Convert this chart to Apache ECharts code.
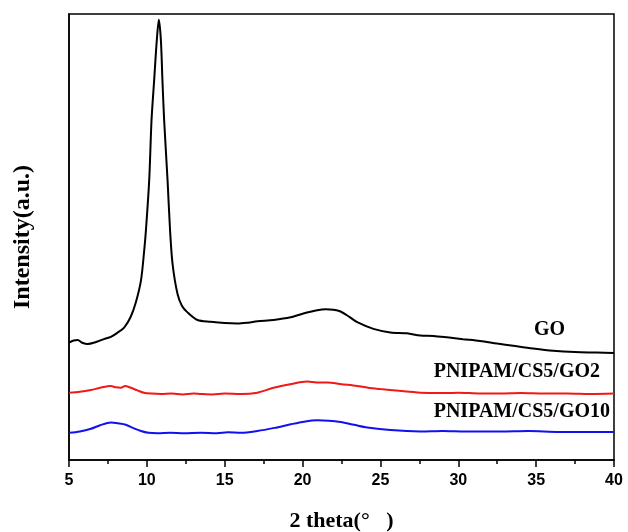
<!DOCTYPE html>
<html>
<head>
<meta charset="utf-8">
<title>XRD</title>
<script src="https://cdn.jsdelivr.net/npm/echarts@6/dist/echarts.min.js"></script>
<style>
  html, body { margin: 0; padding: 0; background: #fff; }
  #chart { width: 628px; height: 532px; }
</style>
</head>
<body>
<div id="chart"></div>
<script>
// XRD 图谱 GO / PNIPAM/CS5/GO2 / PNIPAM/CS5/GO10
var seriesNames = ['GO', 'PNIPAM/CS5/GO2', 'PNIPAM/CS5/GO10']
var xTicks = [5, 10, 15, 20, 25, 30, 35, 40]

// [2theta, intensity(a.u.)]
var goData = [
  [5.0, 26.3], [5.3, 26.8], [5.56, 26.9], [5.85, 26.3], [6.2, 26.0], [6.7, 26.4],
  [7.24, 27.1], [7.69, 27.6], [8.1, 28.5], [8.54, 29.7], [8.95, 32.0], [9.29, 35.3],
  [9.62, 40.2], [9.83, 47.0], [9.94, 51.5], [10.15, 62.7], [10.3, 76.2], [10.47, 85.2],
  [10.64, 94.2], [10.77, 98.7], [10.9, 94.2], [11.0, 85.2], [11.11, 76.2], [11.33, 62.7],
  [11.49, 51.5], [11.65, 44.0], [11.97, 37.2], [12.25, 34.6], [12.61, 33.1], [13.25, 31.4],
  [14.1, 31.0], [15.0, 30.7], [15.81, 30.6], [16.5, 30.8], [17.1, 31.1], [18.14, 31.4],
  [19.23, 32.0], [20.1, 32.9], [20.94, 33.6], [21.5, 33.8], [21.99, 33.7], [22.44, 33.3],
  [23.0, 32.1], [23.51, 30.9], [24.55, 29.4], [25.64, 28.6], [26.71, 28.4], [27.56, 27.9],
  [28.4, 27.8], [29.28, 27.5], [30.3, 27.1], [31.4, 26.7], [32.5, 26.1], [33.53, 25.6],
  [34.8, 25.0], [36.09, 24.5], [37.5, 24.2], [38.89, 24.1], [40.0, 24.0]
]
var go2Data = [
  [5.0, 15.1], [5.7, 15.3], [6.41, 15.7], [7.0, 16.2], [7.69, 16.6], [8.0, 16.3],
  [8.33, 16.2], [8.6, 16.6], [8.97, 16.2], [9.4, 15.6], [9.81, 15.1], [10.3, 14.9],
  [10.9, 14.8], [11.6, 14.9], [12.3, 14.7], [13.0, 14.9], [13.46, 14.8], [14.2, 14.7],
  [15.0, 14.9], [16.03, 14.8], [17.1, 15.1], [18.14, 16.2], [19.2, 17.0], [20.3, 17.6],
  [20.9, 17.4], [21.58, 17.4], [22.5, 17.0], [23.5, 16.6], [24.2, 16.2], [25.0, 15.9],
  [26.2, 15.5], [27.56, 15.1], [28.8, 15.0], [30.0, 15.1], [31.4, 14.9], [32.7, 14.9],
  [34.0, 15.0], [35.5, 14.9], [37.0, 14.9], [38.5, 14.8], [40.0, 14.9]
]
var go10Data = [
  [5.0, 6.1], [5.7, 6.4], [6.41, 7.0], [7.0, 7.8], [7.69, 8.4], [8.2, 8.2],
  [8.65, 7.9], [9.1, 7.2], [9.62, 6.5], [10.1, 6.1], [10.69, 6.0], [11.5, 6.1],
  [12.4, 6.0], [13.46, 6.1], [14.5, 6.0], [15.2, 6.2], [16.03, 6.1], [17.1, 6.5],
  [18.2, 7.2], [19.23, 8.0], [20.1, 8.6], [20.94, 8.9], [21.7, 8.8], [22.44, 8.5],
  [23.3, 7.9], [24.15, 7.3], [25.64, 6.7], [27.56, 6.4], [29.0, 6.5], [30.5, 6.4],
  [32.7, 6.4], [34.5, 6.5], [36.5, 6.3], [38.5, 6.3], [40.0, 6.3]
]

var chart = echarts.init(document.getElementById('chart'))

var serifFont = '"Liberation Serif", "Times New Roman", serif'
var labelFont = {
  fontFamily: serifFont,
  fontWeight: 'bold',
  fontSize: 20,
  fill: '#000'
}

chart.setOption({
  backgroundColor: '#fff',
  animation: false,
  grid: {
    left: 69,
    right: 14,
    top: 14,
    bottom: 72,
    containLabel: false,
    outerBoundsMode: 'none',
    show: true,
    borderColor: '#000',
    borderWidth: 1.5
  },
  xAxis: {
    type: 'value',
    min: xTicks[0],
    max: xTicks[xTicks.length - 1],
    interval: 5,
    name: '2 theta(°   )',
    nameLocation: 'middle',
    nameGap: 50,
    nameTextStyle: {
      fontFamily: serifFont,
      fontWeight: 'bold',
      fontSize: 22,
      color: '#000'
    },
    axisLine: { show: true, onZero: false, lineStyle: { color: '#000', width: 1.5 } },
    axisTick: { show: true, inside: false, length: 7, lineStyle: { color: '#000', width: 1.5 } },
    minorTick: { show: true, splitNumber: 2, length: 4, lineStyle: { color: '#000', width: 1.5 } },
    splitLine: { show: false },
    axisLabel: {
      margin: 13,
      fontFamily: '"Liberation Sans", Arial, sans-serif',
      fontWeight: 'bold',
      fontSize: 16,
      color: '#000'
    }
  },
  yAxis: {
    type: 'value',
    min: 0,
    max: 100,
    name: 'Intensity(a.u.)',
    nameLocation: 'middle',
    nameGap: 34,
    nameTextStyle: {
      fontFamily: serifFont,
      fontWeight: 'bold',
      fontSize: 24,
      color: '#000'
    },
    axisLine: { show: true, lineStyle: { color: '#000', width: 1.5 } },
    axisTick: { show: false },
    axisLabel: { show: false },
    splitLine: { show: false }
  },
  series: [
    {
      name: seriesNames[0],
      type: 'line',
      data: goData,
      showSymbol: false,
      smooth: 0.3,
      lineStyle: { color: '#000', width: 2 }
    },
    {
      name: seriesNames[1],
      type: 'line',
      data: go2Data,
      showSymbol: false,
      smooth: 0.3,
      lineStyle: { color: '#f01818', width: 2 }
    },
    {
      name: seriesNames[2],
      type: 'line',
      data: go10Data,
      showSymbol: false,
      smooth: 0.3,
      lineStyle: { color: '#1010f0', width: 2 }
    }
  ],
  // 曲线旁的标注
  graphic: [
    { type: 'text', right: 63, top: 320, style: Object.assign({ text: seriesNames[0] }, labelFont) },
    { type: 'text', right: 28, top: 362, style: Object.assign({ text: seriesNames[1] }, labelFont) },
    { type: 'text', right: 18, top: 402, style: Object.assign({ text: seriesNames[2] }, labelFont) }
  ]
})
</script>
</body>
</html>
